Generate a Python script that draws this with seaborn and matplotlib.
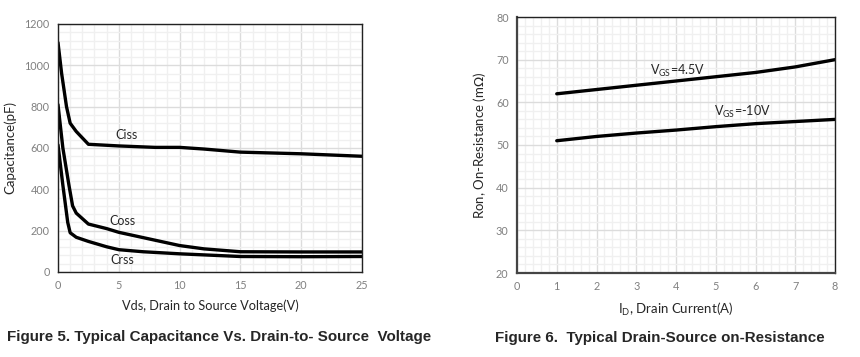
import matplotlib
matplotlib.use("Agg")
import matplotlib.pyplot as plt
import seaborn as sns
import pandas as pd
from matplotlib.ticker import MultipleLocator

# --- Figure 5 data: capacitance vs Vds ---
vds_ciss = [0, 0.3, 0.7, 1.0, 1.5, 2.5, 5, 8, 10, 12, 15, 20, 25]
ciss = [1110, 960, 800, 720, 680, 618, 610, 603, 603, 595, 580, 572, 560]
vds_coss = [0, 0.4, 0.9, 1.2, 1.5, 2.5, 4, 5, 7.5, 10, 12, 15, 20, 25]
coss = [810, 600, 420, 320, 285, 232, 210, 192, 160, 128, 112, 98, 97, 97]
vds_crss = [0, 0.4, 0.8, 1.0, 1.5, 2.5, 4, 5, 7, 10, 15, 20, 25]
crss = [615, 420, 240, 190, 168, 148, 122, 108, 98, 88, 75, 74, 75]

# --- Figure 6 data: Ron vs Id ---
id_amps = [1, 2, 3, 4, 5, 6, 7, 8]
ron_45 = [62, 63, 64, 65, 66, 67, 68.3, 70]
ron_10 = [51, 52, 52.8, 53.5, 54.3, 55, 55.5, 56]

sns.set_style("white")
plt.rcParams["font.family"] = ["Lato", "DejaVu Sans"]

fig = plt.figure(figsize=(8.6, 3.57), dpi=100)
ax1 = fig.add_axes([58 / 860, 1 - 272 / 357, 304 / 860, 248 / 357])
ax2 = fig.add_axes([517 / 860, 1 - 273 / 357, 318 / 860, 256 / 357])

lw = 2.4
for x, y in [(vds_ciss, ciss), (vds_coss, coss), (vds_crss, crss)]:
    sns.lineplot(x=x, y=y, ax=ax1, color="black", linewidth=lw, sort=False)
for y in [ron_45, ron_10]:
    sns.lineplot(x=id_amps, y=y, ax=ax2, color="black", linewidth=lw, sort=False)


def style_axes(ax, xlim, ylim, xmaj, xmin, ymaj, ymin):
    ax.set_xlim(*xlim)
    ax.set_ylim(*ylim)
    ax.xaxis.set_major_locator(MultipleLocator(xmaj))
    ax.xaxis.set_minor_locator(MultipleLocator(xmin))
    ax.yaxis.set_major_locator(MultipleLocator(ymaj))
    ax.yaxis.set_minor_locator(MultipleLocator(ymin))
    ax.grid(which="major", color="#dcdcdc", linewidth=1.0)
    ax.grid(which="minor", color="#f0f0f0", linewidth=1.0)
    ax.set_axisbelow(True)
    ax.tick_params(which="both", length=0, labelsize=7.8, labelcolor="#808080", pad=6)
    for s in ax.spines.values():
        s.set_color("#222222")
        s.set_linewidth(1.0)


style_axes(ax1, (0, 25), (0, 1200), 5, 1, 200, 40)
style_axes(ax2, (0, 8), (20, 80), 1, 0.2, 10, 2)
for s in ["left", "bottom"]:
    ax2.spines[s].set_linewidth(1.6)
    ax2.spines[s].set_color("#444444")

ax1.set_xlabel("Vds, Drain to Source Voltage(V)", fontsize=9.2, labelpad=6)
ax1.set_ylabel("Capacitance(pF)", fontsize=9.5, labelpad=6)
ax2.set_xlabel(r"I$_{\mathregular{D}}$, Drain Current(A)", fontsize=9.5, labelpad=6)
ax2.set_ylabel(r"Ron, On-Resistance (m$\Omega$)", fontsize=9.5, labelpad=6)

ax1.text(5.6, 663, "Ciss", fontsize=9, ha="center", va="center")
ax1.text(5.3, 247, "Coss", fontsize=9, ha="center", va="center")
ax1.text(5.3, 58, "Crss", fontsize=9, ha="center", va="center")
ax2.text(4.05, 67.4, r"V$_{\mathregular{GS}}$=4.5V", fontsize=9, ha="center", va="center")
ax2.text(5.66, 57.8, r"V$_{\mathregular{GS}}$=-10V", fontsize=9, ha="center", va="center")

fig.text(219 / 860, 1 - 337 / 357, "Figure 5. Typical Capacitance Vs. Drain-to- Source  Voltage",
         fontsize=10.9, fontweight="bold", family="Liberation Sans", ha="center", va="center")
fig.text(660 / 860, 1 - 338 / 357, "Figure 6.  Typical Drain-Source on-Resistance",
         fontsize=10.9, fontweight="bold", family="Liberation Sans", ha="center", va="center")

fig.savefig("out.png", dpi=100)
